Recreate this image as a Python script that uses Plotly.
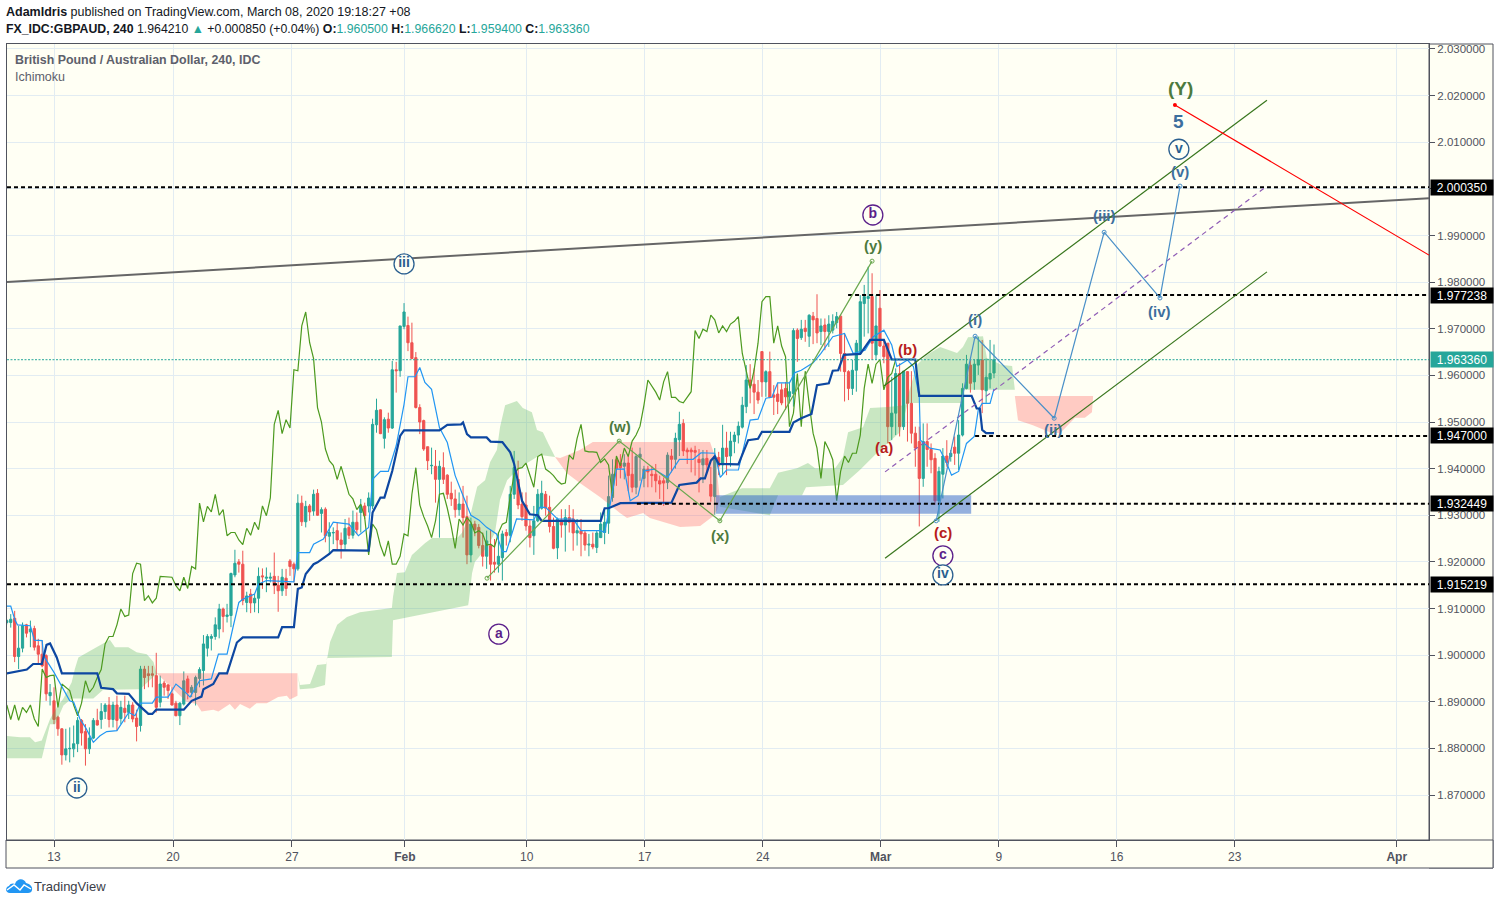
import plotly.graph_objects as go

W, H = 1499, 905
L, R, T, B = 7, 1429, 44, 840

first_bar = -12
opens = [1.9070,1.9070,1.9079,1.8997,1.9015,1.9065,1.9050,1.9057,1.9020,1.9002,1.8999,1.8913,
1.8902,1.8867,1.8842,1.8786,1.8799,1.8799,1.8810,1.8860,1.8836,1.8799,1.8822,1.8860,1.8862,1.8879,1.8893,1.8862,1.8893,1.8864,1.8886,1.8877,1.8893,1.8865,
1.8849,1.8970,1.8960,1.8960,1.8956,1.8899,1.8940,1.8936,1.8917,1.8897,1.8870,1.8895,1.8949,1.8920,1.8920,1.8950,1.8967,1.9015,1.9036,1.9040,1.9056,1.9099,1.9083,1.9085,1.9172,1.9200,1.9195,
1.9113,1.9131,1.9112,1.9122,1.9170,1.9165,1.9165,1.9169,1.9150,1.9138,1.9165,1.9202,1.9195,1.9185,1.9326,1.9286,1.9320,1.9309,1.9347,1.9304,1.9313,1.9255,1.9262,1.9267,1.9247,1.9238,1.9274,1.9257,1.9285,
1.9306,1.9320,1.9320,1.9320,1.9494,1.9526,1.9465,1.9506,1.9487,1.9612,1.9610,1.9705,1.9707,1.9670,1.9638,1.9531,1.9503,1.9447,1.9406,1.9405,1.9377,1.9402,1.9386,1.9347,1.9335,1.9312,1.9324,1.9297,1.9215,1.9281,1.9274,1.9235,1.9212,1.9235,1.9199,1.9195,1.9209,1.9263,1.9257,1.9345,1.9377,1.9324,1.9322,1.9277,1.9256,1.9288,1.9315,1.9345,1.9317,1.9276,1.9230,1.9290,1.9279,1.9295,1.9292,1.9262,1.9267,1.9262,1.9236,1.9238,1.9231,1.9252,1.9263,1.9283,1.9338,1.9419,1.9412,1.9405,1.9412,1.9388,1.9360,1.9424,1.9379,1.9399,1.9388,1.9388,1.9374,1.9374,1.9370,1.9427,1.9420,1.9462,1.9497,1.9440,1.9440,1.9439,1.9420,
1.9408,1.9422,1.9366,1.9340,1.9424,1.9408,1.9444,1.9427,1.9458,1.9472,1.9489,1.9533,1.9590,1.9581,1.9564,1.9651,1.9586,1.9608,1.9558,1.9560,1.9569,1.9572,1.9554,1.9561,1.9697,1.9681,1.9701,1.9684,1.9727,1.9722,1.9694,1.9708,1.9694,1.9697,1.9713,1.9727,1.9647,1.9608,1.9572,1.9611,1.9647,1.9754,1.9765,1.9769,1.9644,1.9744,1.9663,1.9669,1.9490,1.9519,1.9604,1.9490,1.9608,1.9540,1.9476,1.9458,1.9379,1.9458,1.9441,1.9422,1.9331,1.9388,1.9427,1.9426,1.9446,1.9433,1.9472,1.9572,1.9622,1.9586,1.9622,1.9633,1.9567,1.9592,1.9605]
highs = [1.9077,1.9088,1.9095,1.9063,1.9070,1.9067,1.9074,1.9063,1.9035,1.9031,1.9002,1.8938,
1.8931,1.8870,1.8843,1.8842,1.8845,1.8849,1.8867,1.8863,1.8852,1.8845,1.8865,1.8885,1.8897,1.8897,1.8910,1.8900,1.8913,1.8902,1.8913,1.8902,1.8899,1.8883,
1.8977,1.8977,1.8977,1.8977,1.9005,1.8956,1.8945,1.8938,1.8931,1.8902,1.8899,1.8965,1.8956,1.8936,1.8956,1.8974,1.9043,1.9045,1.9045,1.9081,1.9110,1.9102,1.9110,1.9177,1.9226,1.9206,1.9224,
1.9136,1.9142,1.9131,1.9188,1.9186,1.9188,1.9177,1.9220,1.9170,1.9185,1.9185,1.9206,1.9199,1.9345,1.9342,1.9331,1.9324,1.9355,1.9356,1.9317,1.9317,1.9285,1.9274,1.9285,1.9263,1.9292,1.9295,1.9310,1.9306,
1.9335,1.9327,1.9349,1.9507,1.9550,1.9527,1.9510,1.9520,1.9631,1.9629,1.9706,1.9755,1.9726,1.9713,1.9650,1.9538,1.9505,1.9447,1.9445,1.9440,1.9417,1.9435,1.9388,1.9372,1.9355,1.9349,1.9363,1.9342,1.9295,1.9288,1.9281,1.9263,1.9267,1.9270,1.9249,1.9263,1.9267,1.9270,1.9363,1.9438,1.9417,1.9349,1.9349,1.9292,1.9320,1.9356,1.9374,1.9352,1.9342,1.9295,1.9295,1.9313,1.9313,1.9322,1.9313,1.9292,1.9292,1.9267,1.9260,1.9263,1.9267,1.9306,1.9313,1.9385,1.9420,1.9424,1.9431,1.9431,1.9431,1.9445,1.9431,1.9445,1.9406,1.9406,1.9406,1.9410,1.9385,1.9381,1.9435,1.9442,1.9477,1.9522,1.9506,1.9445,1.9445,1.9449,1.9442,
1.9440,1.9440,1.9404,1.9444,1.9436,1.9494,1.9479,1.9479,1.9479,1.9501,1.9554,1.9622,1.9624,1.9615,1.9590,1.9651,1.9611,1.9651,1.9579,1.9584,1.9583,1.9586,1.9586,1.9701,1.9701,1.9719,1.9719,1.9731,1.9736,1.9774,1.9722,1.9722,1.9729,1.9731,1.9736,1.9729,1.9690,1.9611,1.9633,1.9676,1.9772,1.9794,1.9833,1.9819,1.9772,1.9783,1.9676,1.9669,1.9597,1.9615,1.9626,1.9609,1.9609,1.9609,1.9490,1.9490,1.9497,1.9497,1.9454,1.9433,1.9404,1.9444,1.9461,1.9440,1.9469,1.9504,1.9583,1.9644,1.9633,1.9633,1.9683,1.9676,1.9636,1.9676,1.96662]
lows = [1.9066,1.9059,1.8985,1.8970,1.9006,1.9038,1.9017,1.9010,1.8981,1.8974,1.8902,1.8892,
1.8852,1.8827,1.8765,1.8774,1.8770,1.8781,1.8792,1.8806,1.8763,1.8788,1.8820,1.8849,1.8842,1.8863,1.8845,1.8845,1.8838,1.8852,1.8856,1.8863,1.8856,1.8815,
1.8836,1.8927,1.8931,1.8931,1.8877,1.8888,1.8913,1.8906,1.8892,1.8869,1.8850,1.8892,1.8905,1.8910,1.8892,1.8931,1.8935,1.8997,1.9010,1.9033,1.9036,1.9049,1.9070,1.9060,1.9167,1.9177,1.9107,
1.9092,1.9090,1.9092,1.9090,1.9142,1.9135,1.9156,1.9131,1.9093,1.9127,1.9127,1.9170,1.9156,1.9181,1.9277,1.9274,1.9288,1.9299,1.9299,1.9263,1.9242,1.9217,1.9238,1.9227,1.9207,1.9226,1.9249,1.9250,1.9260,
1.9263,1.9292,1.9306,1.9313,1.9477,1.9474,1.9443,1.9477,1.9485,1.9563,1.9597,1.9699,1.9652,1.9635,1.9529,1.9474,1.9438,1.9397,1.9388,1.9327,1.9252,1.9367,1.9335,1.9320,1.9295,1.9299,1.9252,1.9195,1.9199,1.9255,1.9229,1.9190,1.9185,1.9160,1.9177,1.9177,1.9160,1.9235,1.9242,1.9335,1.9313,1.9288,1.9267,1.9231,1.9215,1.9285,1.9312,1.9299,1.9263,1.9227,1.9206,1.9252,1.9222,1.9263,1.9224,1.9235,1.9212,1.9224,1.9212,1.9227,1.9219,1.9252,1.9238,1.9260,1.9329,1.9363,1.9379,1.9377,1.9352,1.9349,1.9345,1.9374,1.9360,1.9360,1.9360,1.9349,1.9335,1.9320,1.9356,1.9392,1.9400,1.9427,1.9427,1.9410,1.9392,1.9385,1.9349,
1.9369,1.9394,1.9329,1.9301,1.9386,1.9386,1.9386,1.9404,1.9433,1.9454,1.9486,1.9519,1.9540,1.9517,1.9539,1.9554,1.9554,1.9551,1.9515,1.9517,1.9536,1.9526,1.9540,1.9533,1.9629,1.9676,1.9672,1.9661,1.9667,1.9669,1.9665,1.9654,1.9661,1.9690,1.9701,1.9608,1.9544,1.9547,1.9558,1.9565,1.9647,1.9683,1.9690,1.9633,1.9633,1.9661,1.9626,1.9454,1.9461,1.9472,1.9469,1.9483,1.9458,1.9454,1.9404,1.9276,1.9361,1.9404,1.9390,1.9322,1.9286,1.9336,1.9404,1.9415,1.9408,1.9397,1.9469,1.9570,1.9563,1.9569,1.9601,1.9519,1.9541,1.9572,1.9594]
closes = [1.9074,1.9077,1.8997,1.9015,1.9063,1.9047,1.9056,1.9017,1.9002,1.8977,1.8917,1.8920,
1.8862,1.8842,1.8786,1.8799,1.8800,1.8810,1.8860,1.8833,1.8799,1.8822,1.8860,1.8850,1.8879,1.8893,1.8862,1.8893,1.8860,1.8888,1.8877,1.8893,1.8863,1.8847,
1.8970,1.8952,1.8956,1.8957,1.8888,1.8938,1.8931,1.8924,1.8893,1.8870,1.8897,1.8945,1.8920,1.8931,1.8952,1.8969,1.9024,1.9040,1.9040,1.9065,1.9099,1.9083,1.9086,1.9175,1.9197,1.9195,1.9117,
1.9127,1.9112,1.9122,1.9169,1.9168,1.9167,1.9167,1.9149,1.9138,1.9167,1.9143,1.9190,1.9185,1.9326,1.9286,1.9319,1.9307,1.9345,1.9300,1.9312,1.9256,1.9263,1.9263,1.9247,1.9237,1.9272,1.9257,1.9285,1.9269,
1.9320,1.9299,1.9337,1.9495,1.9525,1.9475,1.9505,1.9487,1.9612,1.9610,1.9706,1.9736,1.9670,1.9636,1.9531,1.9500,1.9442,1.9417,1.9407,1.9377,1.9405,1.9377,1.9345,1.9335,1.9312,1.9324,1.9295,1.9215,1.9281,1.9269,1.9235,1.9212,1.9245,1.9195,1.9195,1.9212,1.9260,1.9256,1.9345,1.9402,1.9322,1.9297,1.9277,1.9252,1.9288,1.9345,1.9347,1.9315,1.9276,1.9229,1.9292,1.9279,1.9295,1.9285,1.9262,1.9267,1.9260,1.9236,1.9238,1.9232,1.9262,1.9281,1.9285,1.9340,1.9388,1.9400,1.9402,1.9412,1.9385,1.9360,1.9426,1.9431,1.9399,1.9393,1.9385,1.9374,1.9367,1.9369,1.9429,1.9420,1.9465,1.9495,1.9438,1.9436,1.9436,1.9435,1.9413,
1.9421,1.9408,1.9341,1.9427,1.9406,1.9444,1.9426,1.9459,1.9472,1.9491,1.9536,1.9590,1.9578,1.9564,1.9547,1.9586,1.9608,1.9553,1.9553,1.9544,1.9541,1.9554,1.9565,1.9696,1.9679,1.9699,1.9694,1.9729,1.9719,1.9691,1.9706,1.9694,1.9710,1.9716,1.9726,1.9647,1.9608,1.9572,1.9611,1.9669,1.9758,1.9769,1.9769,1.9669,1.9706,1.9663,1.9640,1.9490,1.9519,1.9604,1.9490,1.9609,1.9540,1.9476,1.9444,1.9379,1.9458,1.9441,1.9419,1.9331,1.9394,1.9427,1.9413,1.9433,1.9433,1.9472,1.9572,1.9624,1.9583,1.9624,1.9634,1.9569,1.9596,1.9604,1.96336]
bar_index = list(range(first_bar, first_bar + len(closes)))

base_x = [-12,-6.9,-5.3,-3.1,-1.9,-1,.7,2,11,12,15,16,19,21,24,25,26,33,35,37.5,38,40.5,42,44,46.5,48,57,58,61,62,63,64,66,67,70,71,80,81,83,84,86,88,89,98,100,103.5,104,105,106,110,111,114,116,117,119,121,123,124,139,140,141,144,157,159,163.4,164.4,165.5,167,168,169,174,176.5,179,180,187,188,190,192.6,194,197,198,199.4,200.8,205,207.5,211,213,219,220,233.3,234.6,235.4,236,237,239]
base_y = [1.8961,1.8969,1.8981,1.8981,1.9022,1.9025,1.8995,1.8961,1.8961,1.8930,1.8927,1.8918,1.8917,1.8897,1.8874,1.8874,1.8883,1.8883,1.8902,1.8911,1.8927,1.8938,1.8961,1.8961,1.9027,1.9038,1.9038,1.9060,1.9060,1.9142,1.9145,1.9174,1.9195,1.9199,1.9217,1.9225,1.9224,1.9306,1.9338,1.9338,1.9395,1.9470,1.9482,1.9482,1.9494,1.9495,1.9499,1.9474,1.9467,1.9467,1.9458,1.9457,1.9435,1.9410,1.9331,1.9302,1.9300,1.9288,1.9288,1.9315,1.9315,1.9326,1.9327,1.9365,1.9370,1.9379,1.9379,1.9417,1.9426,1.9410,1.9409,1.9461,1.9464,1.9479,1.9479,1.9499,1.9508,1.9517,1.9579,1.9583,1.9610,1.9611,1.9644,1.9646,1.9676,1.9676,1.9634,1.9634,1.9556,1.9556,1.9529,1.9529,1.9483,1.9476,1.9476]

conv_x = [-12,-11,-10,-9.3,-6,-5,-3,-2.7,0,2,4,5,6.6,8,10,11.7,13.4,16,19,20.6,22,25,26,29,31,32.6,34.6,37,40,41.8,44,45.6,47,48,51,52,54,61,62,65,66,68.5,71,75,77.4,80,81,83,85,87,89,90,91.8,93,94.3,96,98,100,102,104,106,108,110,112.5,114,115,117.6,122,123.5,125,128,132,134,139,140,142,143,145,146.5,148.5,150,152.5,156,159,162.5,164.5,166.8,168,169.4,171,174,175.7,177,179,181,182.5,184,187,188.4,190,193,195,198,201,203.2,206.2,208.3,211,213,214.3,217,218.5,220,220.3,222.7,225.3,227,228.2,230,232,234,235,236,238,239]
conv_y = [1.9105,1.9105,1.9077,1.9065,1.9063,1.9032,1.9031,1.8999,1.8963,1.8931,1.8902,1.8899,1.8863,1.8845,1.8813,1.8827,1.8836,1.8838,1.8877,1.8870,1.8897,1.8897,1.8910,1.8910,1.8938,1.8927,1.8910,1.8945,1.8949,1.9002,1.9002,1.9063,1.9113,1.9120,1.9131,1.9152,1.9160,1.9157,1.9220,1.9220,1.9238,1.9249,1.9285,1.9281,1.9256,1.9274,1.9377,1.9394,1.9394,1.9449,1.9538,1.9597,1.9597,1.9617,1.9585,1.9570,1.9488,1.9456,1.9385,1.9342,1.9300,1.9290,1.9274,1.9260,1.9222,1.9222,1.9292,1.9290,1.9317,1.9317,1.9292,1.9292,1.9267,1.9267,1.9263,1.9349,1.9399,1.9399,1.9331,1.9342,1.9395,1.9399,1.9381,1.9420,1.9420,1.9434,1.9434,1.9433,1.9381,1.9397,1.9397,1.9461,1.9504,1.9506,1.9551,1.9553,1.9584,1.9584,1.9606,1.9611,1.9627,1.9647,1.9683,1.9690,1.9647,1.9654,1.9683,1.9697,1.9665,1.9619,1.9633,1.9619,1.9554,1.9461,1.9444,1.9440,1.9411,1.9386,1.9394,1.9454,1.9469,1.9526,1.9540,1.9540,1.9571]

green_cloud_1_x = [-12.2,-8.6,-6.1,-4.8,-3.1,-1,.7,2.4,4.5,5.3,6.2,10.8,14.2,15.5,18.9,21,23.6,25.3,26.1,21.9,12.5,10,4.5,2.4,.3,-1,-3.1,-12.2]
green_cloud_1_y = [1.8827,1.8824,1.8824,1.8813,1.8817,1.8863,1.8888,1.8907,1.8942,1.8970,1.8995,1.9017,1.9033,1.9017,1.9017,1.9006,1.9002,1.8985,1.8960,1.8927,1.8926,1.8907,1.8907,1.8892,1.8852,1.8852,1.8779,1.8779]
red_cloud_1_x = [26.1,61.9,61.9,60,59.2,57,54.1,51.5,49.8,47.3,46,44.7,41.8,40.5,37.5,36.3,33.7,31.2]
red_cloud_1_y = [1.8961,1.8961,1.8913,1.8905,1.8913,1.8910,1.8897,1.8897,1.8885,1.8895,1.8883,1.8895,1.8879,1.8883,1.8879,1.8895,1.8900,1.8920]
green_cloud_2_x = [62,62.5,65.1,66.9,69.2,70.2,72,74.5,77.8,85.9,86.2,87.2,89.2,91,94.3,96.1,102.5,103.7,106,107.6,109.6,110.9,112.6,113.4,114.7,117.7,119.2,121.5,122.8,124.3,125.6,127.4,123.6,120.3,117.7,115.2,113.4,112.1,110.1,107,106.3,105.5,105.3,86.2,85.9,69.4,68.9,65.9,62.5]
green_cloud_2_y = [1.8959,1.8936,1.8938,1.8979,1.8981,1.9028,1.9065,1.9082,1.9092,1.9101,1.9125,1.9176,1.9178,1.9215,1.9240,1.9251,1.9251,1.9262,1.9305,1.9361,1.9375,1.9414,1.9440,1.9489,1.9536,1.9545,1.9530,1.9521,1.9483,1.9478,1.9455,1.9425,1.9429,1.9412,1.9397,1.9375,1.9333,1.9262,1.9232,1.9200,1.9176,1.9118,1.9107,1.9075,1.8996,1.8994,1.8936,1.8929,1.8927]
red_cloud_2_x = [127.4,128.7,133.7,137,165,166.8,168.1,168.8,169.3,168.6,167.6,166.3,164.3,159.2,151.5,149.8,145.7,143.9,138.8,133.7,130.4]
red_cloud_2_y = [1.9425,1.9423,1.9440,1.9457,1.9457,1.9457,1.9425,1.9375,1.9333,1.9311,1.9298,1.9290,1.9277,1.9275,1.9294,1.9305,1.9294,1.9305,1.9339,1.9369,1.9390]
green_cloud_3_x = [169.3,174.9,182,184.1,188.9,191.7,193.5,198.6,200.6,201.9,205.7,207.5,212,216.4,219.4,222,225.3,229.6,231.1,232.4,236.2,237.2,241,243.6,244.3,231.1,230.9,217.1,215.1,210,204.9,200.6,191.2,190.2,184.1,182,169.3]
green_cloud_3_y = [1.9339,1.9358,1.9358,1.9391,1.9401,1.9412,1.9401,1.9401,1.9425,1.9478,1.9489,1.9530,1.9532,1.9536,1.9622,1.9644,1.9661,1.9648,1.9661,1.9682,1.9684,1.9637,1.9622,1.9620,1.9569,1.9569,1.9541,1.9541,1.9478,1.9440,1.9397,1.9365,1.9360,1.9343,1.9343,1.9300,1.9318]
red_cloud_3_x = [244.3,264.2,263.9,262.1,259.6,255.8,253.2,248.9,245.1]
red_cloud_3_y = [1.9556,1.9556,1.9521,1.9509,1.9509,1.9476,1.9478,1.9493,1.9504]

zone_x = [168.3,233.2]
zone_y = [1.9303,1.9343]

levels = [2.00035,1.977238,1.947,1.932449,1.915219]
level_starts = [-11.95,201.9,234.2,148.2,-11.95]
last_price = 1.96336

trend_x = [-11.95,349.6]
trend_y = [1.9800,1.9980]
chan_up_x = [211,308.4]
chan_up_y = [1.9577,2.0190]
chan_lo_x = [211.3,308.4]
chan_lo_y = [1.9208,1.9822]
chan_mid_x = [211.3,308.4]
chan_mid_y = [1.9393,2.0006]
red_x = [285,349.6]
red_y = [2.0180,1.9858]
wave_green_x = [110.1,143.7,169.3,208]
wave_green_y = [1.9165,1.9459,1.9288,1.9845]
wave_blue_x = [224.3,234.2,254.3,267,281.2,286.3]
wave_blue_y = [1.9288,1.9684,1.9508,1.9907,1.9766,2.0006]

circ_text = ["iii","ii","a","b","c","iv","v"]
circ_x = [89,5.8,113.1,208.2,226,226,286]
circ_y = [1.9839,1.8715,1.9045,1.9944,1.9213,1.9172,2.0085]
circ_col = ["#2a5f8f","#2a5f8f","#5b1f8a","#5b1f8a","#5b1f8a","#2a5f8f","#2a5f8f"]

lab_text = ["(w)","(x)","(y)","(a)","(b)","(c)","(i)","(ii)","(iii)","(iv)","(v)","5","(Y)"]
lab_x = [143.9,169.3,208.2,211,217.1,226,234.2,254,267,281.2,286.3,286,286.3]
lab_y = [1.9491,1.9257,1.9879,1.9446,1.9656,1.9264,1.9719,1.9483,1.9942,1.9738,2.0038,2.0145,2.0216]
lab_col = ["#4d7a3e","#4d7a3e","#4d7a3e","#b71c1c","#b71c1c","#b71c1c","#3d6f9e","#3d6f9e","#3d6f9e","#3d6f9e","#3d6f9e","#3d6f9e","#4d7a3e"]
lab_size = [15,15,15,15,15,15,15,15,15,15,15,19,19]

price_ticks = [2.03,2.02,2.01,2.00,1.99,1.98,1.97,1.96,1.95,1.94,1.93,1.92,1.91,1.90,1.89,1.88,1.87]
time_ticks = [0,30.26,60.5,89.2,120.2,150.2,180.2,210.2,240.2,270.2,300.2,341.4]
time_labels = ["13","20","27","<b>Feb</b>","10","17","24","<b>Mar</b>","9","16","23","<b>Apr</b>"]

X0, X1 = -11.95, 349.6
FONT = "Liberation Sans"
AXC = "#50535e"
BG = "#fffff4"
GRID = "#e2ecf2"

fig = go.Figure()
def poly(x, y, col):
    fig.add_trace(go.Scatter(x=x, y=y, fill="toself", fillcolor=col, mode="none", hoverinfo="skip"))

GREEN = "rgba(76,175,80,0.3)"
RED = "rgba(255,82,82,0.3)"
poly(green_cloud_1_x, green_cloud_1_y, GREEN)
poly(red_cloud_1_x, red_cloud_1_y, RED)
poly(green_cloud_2_x, green_cloud_2_y, GREEN)
poly(red_cloud_2_x, red_cloud_2_y, RED)
poly(green_cloud_3_x, green_cloud_3_y, GREEN)
poly(red_cloud_3_x, red_cloud_3_y, RED)

fig.add_trace(go.Candlestick(x=bar_index, open=opens, high=highs, low=lows, close=closes,
    increasing=dict(line=dict(color="#26a69a", width=1), fillcolor="#26a69a"),
    decreasing=dict(line=dict(color="#ef5350", width=1), fillcolor="#ef5350"),
    whiskerwidth=0, hoverinfo="skip"))

def line(x, y, col, w=1, dash="solid", mode="lines", shape="linear"):
    fig.add_trace(go.Scatter(x=x, y=y, mode=mode, hoverinfo="skip",
        line=dict(color=col, width=w, dash=dash, shape=shape),
        marker=dict(size=4, symbol="circle-open", color=col)))

line(bar_index[:-25], closes[25:], "#4c9a1f", 1.2)
line(conv_x, conv_y, "#2196f3", 1.2)
line(base_x, base_y, "#0d47a1", 2.2)

fig.add_trace(go.Scatter(x=[zone_x[0],zone_x[1],zone_x[1],zone_x[0]], y=[zone_y[0],zone_y[0],zone_y[1],zone_y[1]],
    fill="toself", fillcolor="rgba(41,98,200,0.5)", mode="none", hoverinfo="skip"))

for lvl, st in zip(levels, level_starts):
    line([st, X1], [lvl, lvl], "#000000", 2, "4px,3px")
line([X0, X1], [last_price, last_price], "#26a69a", 1, "2px,1.5px")

line(trend_x, trend_y, "#666666", 2)
line(chan_up_x, chan_up_y, "#38761d", 1.2)
line(chan_lo_x, chan_lo_y, "#38761d", 1.2)
line(chan_mid_x, chan_mid_y, "#8e5bb5", 1.2, "5px,4px")
line(red_x, red_y, "#ff0000", 1.2, mode="lines")
fig.add_trace(go.Scatter(x=red_x[:1], y=red_y[:1], mode="markers", marker=dict(size=4, color="#ff0000"), hoverinfo="skip"))
line(wave_green_x, wave_green_y, "#6aa84f", 1.2, mode="lines+markers")
line(wave_blue_x, wave_blue_y, "#4a90c8", 1.2, mode="lines+markers")

fig.add_trace(go.Scatter(x=circ_x, y=circ_y, mode="markers+text", text=[f"<b>{t}</b>" for t in circ_text],
    textposition="middle center", textfont=dict(family=FONT, size=14, color=circ_col),
    marker=dict(size=20, color=BG, line=dict(color=circ_col, width=1.3)), hoverinfo="skip"))

anns = []
for t, x, y, c, s in zip(lab_text, lab_x, lab_y, lab_col, lab_size):
    anns.append(dict(x=x, y=y, xref="x", yref="y", text=f"<b>{t}</b>", showarrow=False,
                     font=dict(family=FONT, size=s, color=c), xanchor="center", yanchor="middle"))

def px(xp): return (xp - L) / (R - L)
def py(yp): return (B - yp) / (B - T)

def text(xp, yp, s, size=12.5, col="#131722"):
    anns.append(dict(x=px(xp - 2), y=py(yp), xref="paper", yref="paper", text=s, showarrow=False,
                     xanchor="left", yanchor="middle", font=dict(family=FONT, size=size, color=col)))

TEAL = "#26a69a"
text(6, 12, "<b>AdamIdris</b> published on TradingView.com, March 08, 2020 19:18:27 +08")
text(6, 29, f"<b>FX_IDC:GBPAUD, 240</b> 1.964210 <span style='color:{TEAL}'>▲</span> +0.000850 (+0.04%) "
     f"<b>O:</b><span style='color:{TEAL}'>1.960500</span> <b>H:</b><span style='color:{TEAL}'>1.966620</span> "
     f"<b>L:</b><span style='color:{TEAL}'>1.959400</span> <b>C:</b><span style='color:{TEAL}'>1.963360</span>", 12.3)
text(15, 60, "<b>British Pound / Australian Dollar, 240, IDC</b>", 12.4, "#5d606b")
text(15, 77, "Ichimoku", 12.5, "#5d606b")
text(34, 886, "TradingView", 13, "#3a3d48")

for v, bg in [(levels[0],"#000000"),(last_price,TEAL),(levels[2],"#000000"),(levels[3],"#000000"),(levels[4],"#000000"),(levels[1],"#000000")]:
    anns.append(dict(x=px(1430), y=v, xref="paper", yref="y", text=f"{v:.6f}", showarrow=False, xanchor="left",
                     yanchor="middle", width=62, height=15, bgcolor=bg, borderpad=0, align="center",
                     font=dict(family=FONT, size=12, color="#ffffff")))

ex = (1493 - R) / (R - L)
ey = (B - 868) / (B - T)
shapes = [
    dict(type="rect", xref="paper", yref="paper", x0=1, x1=1 + ex, y0=ey, y1=1, fillcolor=BG, line=dict(color=AXC, width=1), layer="below"),
    dict(type="rect", xref="paper", yref="paper", x0=px(6), x1=1 + ex, y0=ey, y1=0, fillcolor=BG, line=dict(color=AXC, width=1), layer="below"),
    dict(type="path", xref="paper", yref="paper", xsizemode="pixel", ysizemode="pixel", xanchor=0, yanchor=0,
         path="M 3 -53 C -2 -53 -2 -47 2 -46 C 3 -43 7 -43 8 -44 C 10 -38 17 -38 19 -43 C 23 -44 26 -47 25 -50 C 25 -52 23 -53 21 -53 Z",
         fillcolor="#2196f3", line=dict(width=0)),
    dict(type="path", xref="paper", yref="paper", xsizemode="pixel", ysizemode="pixel", xanchor=0, yanchor=0,
         path="M 0 -50 L 7 -45 L 13 -50 L 17 -45 L 24 -49", line=dict(color="#ffffff", width=1.4)),
]

fig.update_layout(
    width=W, height=H, showlegend=False, paper_bgcolor="#ffffff", plot_bgcolor=BG,
    margin=dict(l=L, r=W - R, t=T, b=H - B, pad=0), boxgap=0.2,
    font=dict(family=FONT, color=AXC),
    annotations=anns, shapes=shapes,
    xaxis=dict(range=[X0, X1], tickvals=time_ticks, ticktext=time_labels, showgrid=True, gridcolor=GRID, gridwidth=1,
               zeroline=False, ticks="outside", ticklen=6, tickcolor=AXC, showline=True, linecolor=AXC, mirror=True,
               tickfont=dict(family=FONT, size=12, color=AXC), rangeslider=dict(visible=False), tickangle=0),
    yaxis=dict(range=[1.86035, 2.03107], side="right", tickvals=price_ticks, tickformat=".6f", showgrid=True, gridcolor=GRID,
               gridwidth=1, zeroline=False, ticks="outside", ticklen=5, tickcolor=AXC, showline=True, linecolor=AXC, mirror=True,
               tickfont=dict(family=FONT, size=11.5, color=AXC)),
)

fig.write_html("out.html", config=dict(displayModeBar=False), post_script="document.body.style.margin='0';")
